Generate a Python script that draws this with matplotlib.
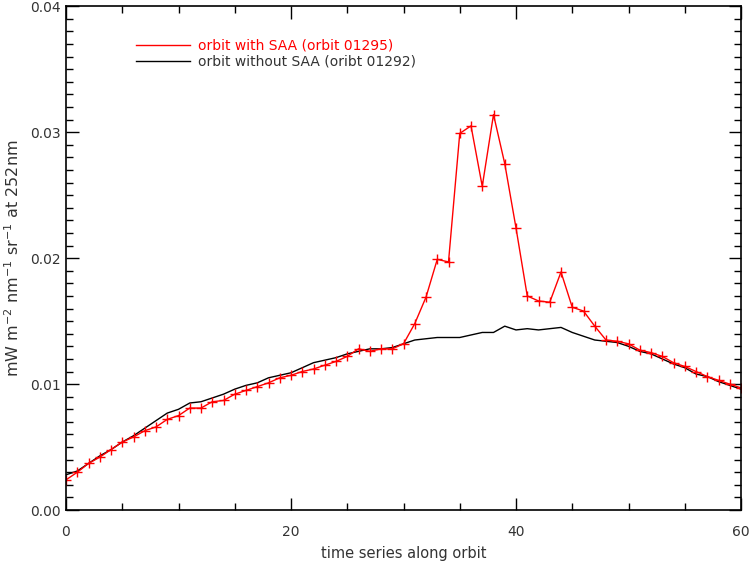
import numpy as np
import matplotlib.pyplot as plt
from matplotlib.lines import Line2D
from matplotlib.ticker import MultipleLocator, FormatStrFormatter

# time step along orbit
steps = list(range(61))

# orbit 01295, passes through the SAA
with_saa = [0.0024, 0.0030, 0.0037, 0.0042, 0.0048, 0.0054, 0.0058, 0.0063, 0.0066, 0.0072,
            0.0075, 0.0081, 0.0081, 0.0086, 0.0087, 0.0092, 0.0095, 0.0098, 0.0101, 0.0105,
            0.0107, 0.0110, 0.0112, 0.0115, 0.0118, 0.0122, 0.0128, 0.0126, 0.0128, 0.0128,
            0.0132, 0.0148, 0.0169, 0.0199, 0.0197, 0.0299, 0.0305, 0.0257, 0.0314, 0.0275,
            0.0224, 0.0170, 0.0166, 0.0165, 0.0189, 0.0161, 0.0158, 0.0146, 0.0135, 0.0134,
            0.0132, 0.0127, 0.0125, 0.0122, 0.0117, 0.0114, 0.0110, 0.0106, 0.0103, 0.0100,
            0.0097]

# orbit 01292, no SAA
without_saa = [0.0028, 0.0031, 0.0037, 0.0043, 0.0048, 0.0054, 0.0059, 0.0065, 0.0071, 0.0077,
               0.0080, 0.0085, 0.0086, 0.0089, 0.0092, 0.0096, 0.0099, 0.0101, 0.0105, 0.0107,
               0.0109, 0.0113, 0.0117, 0.0119, 0.0121, 0.0124, 0.0126, 0.0128, 0.0128, 0.0129,
               0.0132, 0.0135, 0.0136, 0.0137, 0.0137, 0.0137, 0.0139, 0.0141, 0.0141, 0.0146,
               0.0143, 0.0144, 0.0143, 0.0144, 0.0145, 0.0141, 0.0138, 0.0135, 0.0134, 0.0133,
               0.0130, 0.0126, 0.0124, 0.0120, 0.0116, 0.0113, 0.0108, 0.0106, 0.0102, 0.0099,
               0.0096]

labels = ['orbit with SAA (orbit 01295)', 'orbit without SAA (oribt 01292)']

fig = plt.figure(figsize=(7.5, 5.63), dpi=100)
ax = fig.add_axes([0.088, 0.094, 0.9, 0.895])

ax.plot(steps, without_saa, color='black', lw=1.0)
ax.plot(steps, with_saa, color='red', lw=1.0, marker='+', ms=6.5, mew=1.0)

ax.set_xlim(0, 60)
ax.set_ylim(0, 0.04)
ax.xaxis.set_major_locator(MultipleLocator(20))
ax.xaxis.set_minor_locator(MultipleLocator(5))
ax.yaxis.set_major_locator(MultipleLocator(0.01))
ax.yaxis.set_minor_locator(MultipleLocator(0.001))
ax.yaxis.set_major_formatter(FormatStrFormatter('%.2f'))
ax.tick_params(which='both', direction='in', top=True, right=True,
               labelsize=10, labelcolor='#333333', width=1)
ax.tick_params(which='major', length=9)
ax.tick_params(which='minor', length=5)
ax.tick_params(axis='x', which='major', pad=11)
for s in ax.spines.values():
    s.set_linewidth(1.2)

ax.set_xlabel('time series along orbit', fontsize=10.5, color='#333333', labelpad=5)
ax.set_ylabel('mW m$^{-2}$ nm$^{-1}$ sr$^{-1}$ at 252nm', fontsize=11.5,
              color='#333333', labelpad=6)

handles = [Line2D([], [], color='red', lw=1.0), Line2D([], [], color='black', lw=1.0)]
leg = ax.legend(handles, labels, loc='upper left', bbox_to_anchor=(0.085, 0.96),
                frameon=False, fontsize=10, handlelength=3.9, handletextpad=0.6,
                labelspacing=0.15, labelcolor=['red', '#333333'])

fig.savefig('out.png', dpi=100)
